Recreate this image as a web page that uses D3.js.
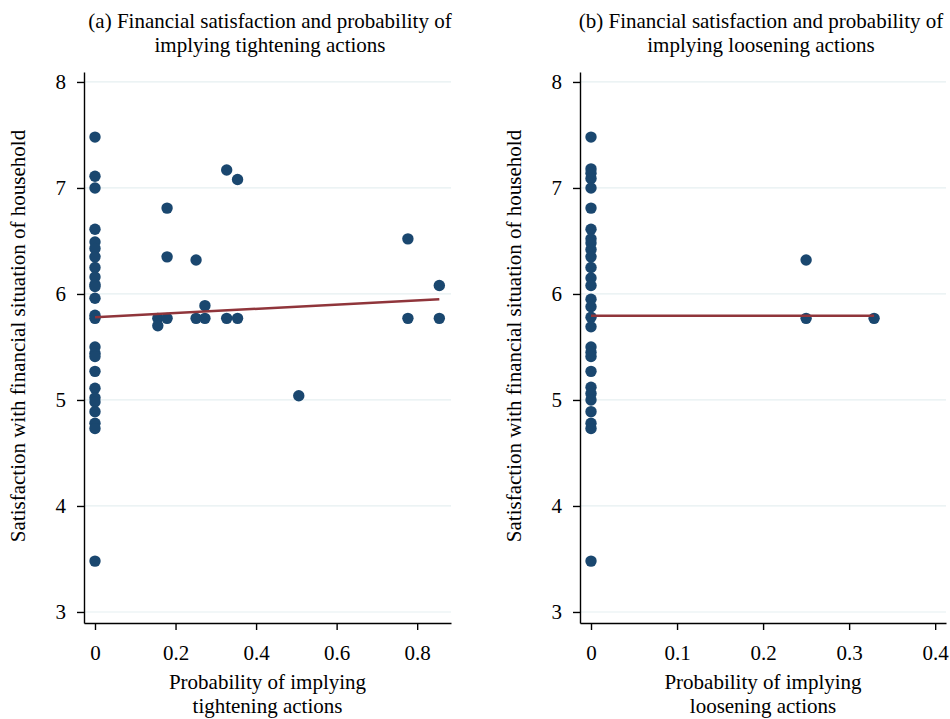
<!DOCTYPE html>
<html>
<head>
<meta charset="utf-8">
<script src="https://cdn.jsdelivr.net/npm/d3@7"></script>
<style>
  body { margin: 0; background: #fff; }
  svg { display: block; }
  text { font-family: "Liberation Serif", "Times New Roman", serif; fill: #000; }
</style>
</head>
<body>
<svg id="chart" width="950" height="719"></svg>
<script>
// ---------- Data ----------
// Panel (a): probability of implying tightening actions vs. satisfaction
const tightX = [0,0,0,0,0,0,0,0,0,0,0,0,0,0,0,0,0,0,0,0,0,0,0,0,0,
  0.327,0.354,0.179,0.179,0.251,0.273,0.156,0.156,0.179,0.251,0.273,0.327,0.354,0.777,0.855,0.777,0.855,0.506];
const tightY = [7.48,7.11,7.00,6.61,6.49,6.43,6.35,6.25,6.16,6.09,6.07,5.96,5.80,5.77,5.50,5.44,5.41,5.27,5.11,5.02,4.98,4.89,4.78,4.73,3.48,
  7.17,7.08,6.81,6.35,6.32,5.89,5.77,5.70,5.77,5.77,5.77,5.77,5.77,6.52,6.08,5.77,5.77,5.04];
const tightFitX = [0, 0.855];
const tightFitY = [5.78, 5.95];

// Panel (b): probability of implying loosening actions vs. satisfaction
const looseX = [0,0,0,0,0,0,0,0,0,0,0,0,0,0,0,0,0,0,0,0,0,0,0,0,0,0,0,0,0,
  0.25,0.25,0.329];
const looseY = [7.48,7.18,7.14,7.09,7.00,6.81,6.61,6.52,6.48,6.42,6.35,6.25,6.15,6.08,5.95,5.88,5.78,5.69,5.50,5.45,5.41,5.27,5.12,5.06,5.00,4.89,4.78,4.73,3.48,
  6.32,5.77,5.77];
const looseFitX = [0, 0.329];
const looseFitY = [5.795, 5.795];

const yTicks = [3,4,5,6,7,8];
const tightTicks = [0,0.2,0.4,0.6,0.8];
const looseTicks = [0,0.1,0.2,0.3,0.4];

const titles = [
  ["(a) Financial satisfaction and probability of", "implying tightening actions"],
  ["(b) Financial satisfaction and probability of", "implying loosening actions"]
];
const xTitles = [
  ["Probability of implying", "tightening actions"],
  ["Probability of implying", "loosening actions"]
];
const yTitle = "Satisfaction with financial situation of household";

// ---------- Layout ----------
const svg = d3.select("#chart");
const MARKER = "#1a476f", FIT = "#90353b", GRID = "#e6eff1";
const yScale = d3.scaleLinear().domain([2.896, 8.094]).range([623, 72]);

const panels = [
  { xs: tightX, ys: tightY, fx: tightFitX, fy: tightFitY, ticks: tightTicks,
    x: d3.scaleLinear().domain([-0.0273, 0.884]).range([84, 451]),
    titleX: 270, yTitleX: 25, tickFmt: d => d === 0 ? "0" : d3.format(".1f")(d) },
  { xs: looseX, ys: looseY, fx: looseFitX, fy: looseFitY, ticks: looseTicks,
    x: d3.scaleLinear().domain([-0.01279, 0.41258]).range([580, 946]),
    titleX: 761, yTitleX: 521, tickFmt: d => d === 0 ? "0" : d3.format(".1f")(d) }
];

panels.forEach((p, i) => {
  const g = svg.append("g");
  const [x0, x1] = p.x.range();

  // gridlines
  g.append("g").selectAll("line").data(yTicks).join("line")
    .attr("x1", x0).attr("x2", x1)
    .attr("y1", d => yScale(d)).attr("y2", d => yScale(d))
    .attr("stroke", GRID).attr("stroke-width", 1.2);

  // y axis
  const ya = g.append("g").attr("transform", `translate(${x0},0)`)
    .call(d3.axisLeft(yScale).tickValues(yTicks).tickSize(7).tickSizeOuter(0).tickPadding(11).tickFormat(d3.format("d")));
  ya.selectAll("text").style("font-size", "21px").style("font-family", "Liberation Serif");
  ya.select(".domain").attr("stroke", "#000").attr("stroke-width", 1.4);
  ya.selectAll(".tick line").attr("stroke", "#000").attr("stroke-width", 1.4);

  // x axis
  const xa = g.append("g").attr("transform", `translate(0,623)`)
    .call(d3.axisBottom(p.x).tickValues(p.ticks).tickSize(7).tickSizeOuter(0).tickPadding(15).tickFormat(p.tickFmt));
  xa.selectAll("text").style("font-size", "21px").style("font-family", "Liberation Serif");
  xa.select(".domain").attr("stroke", "#000").attr("stroke-width", 1.4);
  xa.selectAll(".tick line").attr("stroke", "#000").attr("stroke-width", 1.4);

  // points
  const pts = p.xs.map((v, k) => [v, p.ys[k]]);
  g.append("g").selectAll("circle").data(pts).join("circle")
    .attr("cx", d => p.x(d[0])).attr("cy", d => yScale(d[1]))
    .attr("r", 5.7).attr("fill", MARKER);

  // fit line
  const fit = p.fx.map((v, k) => [v, p.fy[k]]);
  g.append("path").datum(fit)
    .attr("d", d3.line().x(d => p.x(d[0])).y(d => yScale(d[1])))
    .attr("fill", "none").attr("stroke", FIT).attr("stroke-width", 2.5);

  // title
  const t = g.append("text").attr("text-anchor", "middle").style("font-size", "21px");
  titles[i].forEach((s, k) => t.append("tspan").attr("x", p.titleX).attr("y", 28 + k * 24).text(s));

  // x title (two separate lines)
  xTitles[i].forEach((s, k) => g.append("text").attr("text-anchor", "middle").style("font-size", "21px")
    .attr("x", (x0 + x1) / 2).attr("y", 689 + k * 24).text(s));

  // y title
  g.append("text").attr("text-anchor", "middle").style("font-size", "21px")
    .attr("transform", `translate(${p.yTitleX},336) rotate(-90)`).text(yTitle);
});
</script>
</body>
</html>
